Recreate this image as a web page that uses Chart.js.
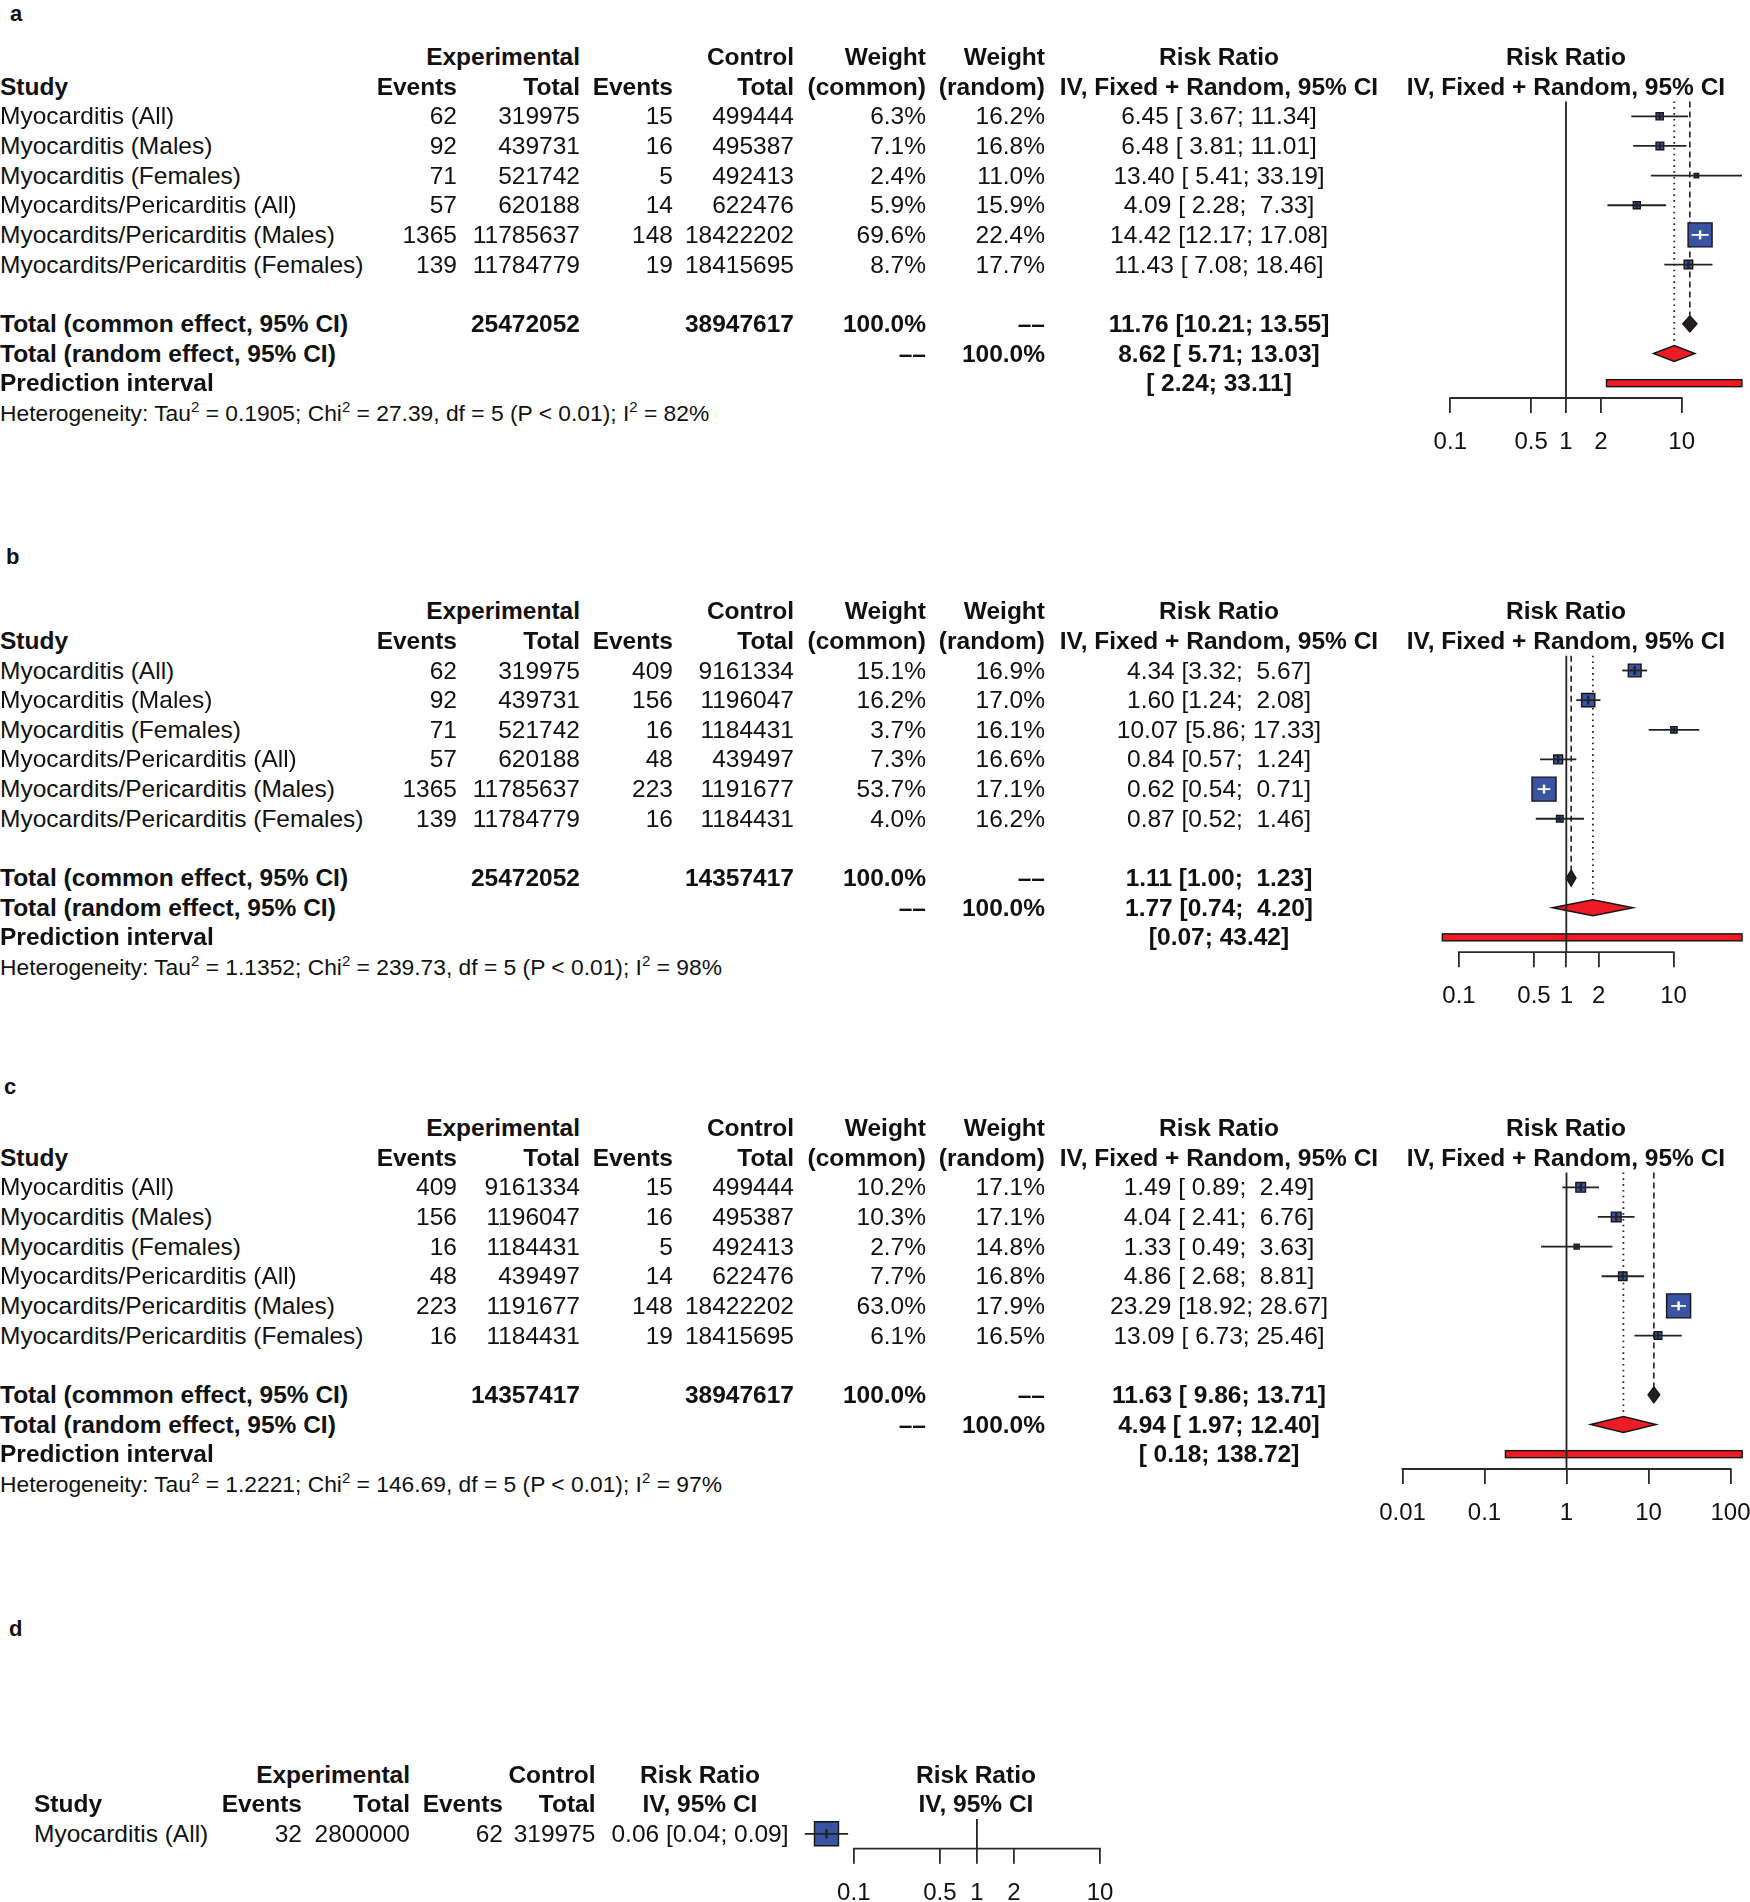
<!DOCTYPE html>
<html><head><meta charset="utf-8"><title>Forest plots</title>
<script src="https://cdn.jsdelivr.net/npm/chart.js@4.4.1/dist/chart.umd.min.js"></script>
<style>
html,body{margin:0;padding:0;background:#fff;overflow:hidden;}
#page{position:relative;width:1750px;height:1902px;overflow:hidden;background:#fff;font-family:"Liberation Sans",Arial,Helvetica,sans-serif;color:#111;}
.t{position:absolute;white-space:pre;font-size:24.5px;line-height:30px;height:30px;z-index:2;}
.b{font-weight:bold;}
.het{font-size:22.8px;}
.sup{font-size:15px;position:relative;top:-9px;}
.lab{font-size:22px;font-weight:bold;line-height:26px;height:26px;}
canvas{position:absolute;z-index:1;}
</style></head>
<body><div id="page"></div>
<script>
// ---------------- DATA ----------------
const studyLabels = ["Myocarditis (All)", "Myocarditis (Males)", "Myocarditis (Females)",
  "Myocardits/Pericarditis (All)", "Myocardits/Pericarditis (Males)", "Myocardits/Pericarditis (Females)"];
const axisTicksStd = [0.1, 0.5, 1, 2, 10];
const axisTickLabelsStd = ["0.1", "0.5", "1", "2", "10"];
const axisTicksWide = [0.01, 0.1, 1, 10, 100];
const axisTickLabelsWide = ["0.01", "0.1", "1", "10", "100"];

// panel a
const aExpEvents = [62, 92, 71, 57, 1365, 139];
const aExpTotal = [319975, 439731, 521742, 620188, 11785637, 11784779];
const aCtrlEvents = [15, 16, 5, 14, 148, 19];
const aCtrlTotal = [499444, 495387, 492413, 622476, 18422202, 18415695];
const aWeightCommon = [6.3, 7.1, 2.4, 5.9, 69.6, 8.7];
const aWeightRandom = [16.2, 16.8, 11.0, 15.9, 22.4, 17.7];
const aRR = [6.45, 6.48, 13.40, 4.09, 14.42, 11.43];
const aLower = [3.67, 3.81, 5.41, 2.28, 12.17, 7.08];
const aUpper = [11.34, 11.01, 33.19, 7.33, 17.08, 18.46];
const aTotals = [25472052, 38947617];
const aCommon = [11.76, 10.21, 13.55];
const aRandom = [8.62, 5.71, 13.03];
const aPrediction = [2.24, 33.11];
const aHet = ["0.1905", "27.39", "5", "0.01", "82%"];

// panel b
const bExpEvents = [62, 92, 71, 57, 1365, 139];
const bExpTotal = [319975, 439731, 521742, 620188, 11785637, 11784779];
const bCtrlEvents = [409, 156, 16, 48, 223, 16];
const bCtrlTotal = [9161334, 1196047, 1184431, 439497, 1191677, 1184431];
const bWeightCommon = [15.1, 16.2, 3.7, 7.3, 53.7, 4.0];
const bWeightRandom = [16.9, 17.0, 16.1, 16.6, 17.1, 16.2];
const bRR = [4.34, 1.60, 10.07, 0.84, 0.62, 0.87];
const bLower = [3.32, 1.24, 5.86, 0.57, 0.54, 0.52];
const bUpper = [5.67, 2.08, 17.33, 1.24, 0.71, 1.46];
const bTotals = [25472052, 14357417];
const bCommon = [1.11, 1.00, 1.23];
const bRandom = [1.77, 0.74, 4.20];
const bPrediction = [0.07, 43.42];
const bHet = ["1.1352", "239.73", "5", "0.01", "98%"];

// panel c
const cExpEvents = [409, 156, 16, 48, 223, 16];
const cExpTotal = [9161334, 1196047, 1184431, 439497, 1191677, 1184431];
const cCtrlEvents = [15, 16, 5, 14, 148, 19];
const cCtrlTotal = [499444, 495387, 492413, 622476, 18422202, 18415695];
const cWeightCommon = [10.2, 10.3, 2.7, 7.7, 63.0, 6.1];
const cWeightRandom = [17.1, 17.1, 14.8, 16.8, 17.9, 16.5];
const cRR = [1.49, 4.04, 1.33, 4.86, 23.29, 13.09];
const cLower = [0.89, 2.41, 0.49, 2.68, 18.92, 6.73];
const cUpper = [2.49, 6.76, 3.63, 8.81, 28.67, 25.46];
const cTotals = [14357417, 38947617];
const cCommon = [11.63, 9.86, 13.71];
const cRandom = [4.94, 1.97, 12.40];
const cPrediction = [0.18, 138.72];
const cHet = ["1.2221", "146.69", "5", "0.01", "97%"];

// panel d
const dStudy = ["Myocarditis (All)"];
const dExpEvents = [32];
const dExpTotal = [2800000];
const dCtrlEvents = [62];
const dCtrlTotal = [319975];
const dWeight = [100];
const dRR = [0.06];
const dLower = [0.04];
const dUpper = [0.09];

// ---------------- LAYOUT ----------------
const STEP = 29.65;
const FONT = '"Liberation Sans", Arial, Helvetica, sans-serif';
const TICK_LEN = 15, TICK_PAD = 15, TICK_FONT = 24;
const page = document.getElementById('page');

function addText(html, x, y, align, cls) {
  const d = document.createElement('div');
  d.className = 't ' + (cls || '');
  d.innerHTML = html;
  if (align === 'left') d.style.left = x + 'px';
  else if (align === 'right') { d.style.left = (x - 700) + 'px'; d.style.width = '700px'; d.style.textAlign = 'right'; }
  else { d.style.left = (x - 400) + 'px'; d.style.width = '800px'; d.style.textAlign = 'center'; }
  const half = (cls === 'lab') ? 13 : 15;
  d.style.top = (y - half) + 'px';
  page.appendChild(d);
}
function fmtCI(lo, hi, wLo, wHi) {
  return '[' + lo.toFixed(2).padStart(wLo) + '; ' + hi.toFixed(2).padStart(wHi) + ']';
}

function drawStdTable(P) {
  const Y = k => P.y0 + k * STEP;
  const C = {e1: 457, t1: 580, e2: 673, t2: 794, wc: 926, wr: 1045, rr: 1219, fp: 1566};
  addText(P.letter, P.letterX, P.letterY, 'left', 'lab');
  addText('Experimental', C.t1, Y(0), 'right', 'b');
  addText('Control', C.t2, Y(0), 'right', 'b');
  addText('Weight', C.wc, Y(0), 'right', 'b');
  addText('Weight', C.wr, Y(0), 'right', 'b');
  addText('Risk Ratio', C.rr, Y(0), 'center', 'b');
  addText('Risk Ratio', C.fp, Y(0), 'center', 'b');
  addText('Study', 0, Y(1), 'left', 'b');
  addText('Events', C.e1, Y(1), 'right', 'b');
  addText('Total', C.t1, Y(1), 'right', 'b');
  addText('Events', C.e2, Y(1), 'right', 'b');
  addText('Total', C.t2, Y(1), 'right', 'b');
  addText('(common)', C.wc, Y(1), 'right', 'b');
  addText('(random)', C.wr, Y(1), 'right', 'b');
  addText('IV, Fixed + Random, 95% CI', C.rr, Y(1), 'center', 'b');
  addText('IV, Fixed + Random, 95% CI', C.fp, Y(1), 'center', 'b');
  const los = P.lo.concat([P.common[1], P.random[1]]).map(v => v.toFixed(2));
  const his = P.hi.concat([P.common[2], P.random[2]]).map(v => v.toFixed(2));
  const wLo = Math.max(...los.map(s => s.length)), wHi = Math.max(...his.map(s => s.length));
  studyLabels.forEach((s, i) => {
    const y = Y(2 + i);
    addText(s, 0, y, 'left');
    addText(String(P.expEvents[i]), C.e1, y, 'right');
    addText(String(P.expTotal[i]), C.t1, y, 'right');
    addText(String(P.ctrlEvents[i]), C.e2, y, 'right');
    addText(String(P.ctrlTotal[i]), C.t2, y, 'right');
    addText(P.wc[i].toFixed(1) + '%', C.wc, y, 'right');
    addText(P.wr[i].toFixed(1) + '%', C.wr, y, 'right');
    addText(P.rr[i].toFixed(2) + ' ' + fmtCI(P.lo[i], P.hi[i], wLo, wHi), C.rr, y, 'center');
  });
  addText('Total (common effect, 95% CI)', 0, Y(9), 'left', 'b');
  addText(String(P.totals[0]), C.t1, Y(9), 'right', 'b');
  addText(String(P.totals[1]), C.t2, Y(9), 'right', 'b');
  addText('100.0%', C.wc, Y(9), 'right', 'b');
  addText('––', C.wr, Y(9), 'right', 'b');
  addText(P.common[0].toFixed(2) + ' ' + fmtCI(P.common[1], P.common[2], wLo, wHi), C.rr, Y(9), 'center', 'b');
  addText('Total (random effect, 95% CI)', 0, Y(10), 'left', 'b');
  addText('––', C.wc, Y(10), 'right', 'b');
  addText('100.0%', C.wr, Y(10), 'right', 'b');
  addText(P.random[0].toFixed(2) + ' ' + fmtCI(P.random[1], P.random[2], wLo, wHi), C.rr, Y(10), 'center', 'b');
  addText('Prediction interval', 0, Y(11), 'left', 'b');
  addText(fmtCI(P.pred[0], P.pred[1], wLo, wHi), C.rr, Y(11), 'center', 'b');
  addText('Heterogeneity: Tau<span class="sup">2</span> = ' + P.het[0] + '; Chi<span class="sup">2</span> = ' + P.het[1] +
    ', df = ' + P.het[2] + ' (P &lt; ' + P.het[3] + '); I<span class="sup">2</span> = ' + P.het[4], 0, Y(12), 'left', 'het');
}

function forestChart(o) {
  // o.px: pixel positions of first and last tick; o.area: chart area left/right in page pixels
  const l0 = Math.log10(o.ticks[0]), l1 = Math.log10(o.ticks[o.ticks.length - 1]);
  const pxPerDec = (o.px[1] - o.px[0]) / (l1 - l0);
  const valAt = p => Math.pow(10, l0 + (p - o.px[0]) / pxPerDec);
  const xMin = valAt(o.area[0]), xMax = valAt(o.area[1]);

  const yTopPx = o.y0 + o.kTop * STEP, yBotPx = o.y0 + o.kBottom * STEP;
  const axisH = TICK_LEN + TICK_FONT * 1.2 + 2 * TICK_PAD;
  const padTop = 30;
  const cTop = Math.floor(yTopPx - padTop);
  const H = Math.ceil(yBotPx + axisH + 6 - cTop);
  const W = o.cx[1] - o.cx[0];
  const cv = document.createElement('canvas');
  cv.width = W; cv.height = H;
  cv.style.left = o.cx[0] + 'px'; cv.style.top = cTop + 'px';
  cv.style.width = W + 'px'; cv.style.height = H + 'px';
  page.appendChild(cv);
  const padding = {left: o.area[0] - o.cx[0], right: o.cx[1] - o.area[1], top: yTopPx - cTop, bottom: H - (yBotPx - cTop) - axisH};
  const wmax = Math.max(...o.weights);
  const sides = o.weights.map(w => 24 * Math.sqrt(w / wmax));
  const rows = o.rr.map((_, i) => 2 + i);
  const inside = (chart, i) => {
    const x = chart.scales.x;
    return Math.abs(x.getPixelForValue(o.hi[i]) - x.getPixelForValue(o.lo[i])) < sides[i] - 2;
  };
  const lineDs = (pts, extra) => Object.assign({type: 'scatter', data: pts, showLine: true, pointRadius: 0,
    borderColor: '#222', borderWidth: 1.8, clip: false, order: 10}, extra);
  const ds = [];
  const dh = 8 / STEP;
  ds.push(lineDs([{x: 1, y: 1.5}, {x: 1, y: o.kBottom}], {order: 20}));
  if (o.common) ds.push(lineDs([{x: o.common[0], y: 1.5}, {x: o.common[0], y: 9 - dh}], {borderDash: [6, 4], borderWidth: 1.6, order: 20}));
  if (o.random) ds.push(lineDs([{x: o.random[0], y: 1.5}, {x: o.random[0], y: 10 - dh}], {borderDash: [1.6, 4.2], borderWidth: 1.8, order: 20}));
  ds.push({type: 'scatter', data: o.rr.map((v, i) => ({x: v, y: rows[i]})), pointStyle: 'rect',
    pointRadius: sides.map(s => s / Math.SQRT2), pointBackgroundColor: '#3a53a3', pointBorderColor: '#151515',
    pointBorderWidth: 1.4, clip: false, order: 8});
  o.rr.forEach((v, i) => ds.push(lineDs([{x: o.lo[i], y: rows[i]}, {x: o.hi[i], y: rows[i]}],
    {borderColor: c => inside(c.chart, i) ? '#ffffff' : '#222', order: 4})));
  ds.push({type: 'scatter', data: o.rr.map((v, i) => ({x: v, y: rows[i]})), pointStyle: 'line', pointRotation: 90,
    pointRadius: sides.map(s => Math.max(1.5, Math.min(4.5, s / 2 - 1))),
    pointBorderColor: c => inside(c.chart, c.dataIndex) ? '#ffffff' : '#222',
    pointBorderWidth: 2.4, clip: false, order: 2});

  const shapes = {
    id: 'forestShapes',
    beforeDatasetsDraw(chart) {
      const ctx = chart.ctx, x = chart.scales.x, y = chart.scales.y;
      ctx.save();
      ctx.lineWidth = 1.4; ctx.strokeStyle = '#151515'; ctx.lineJoin = 'miter';
      const diamond = (v, row, fill) => {
        const yc = y.getPixelForValue(row);
        ctx.beginPath();
        ctx.moveTo(x.getPixelForValue(v[1]), yc);
        ctx.lineTo(x.getPixelForValue(v[0]), yc - 8);
        ctx.lineTo(x.getPixelForValue(v[2]), yc);
        ctx.lineTo(x.getPixelForValue(v[0]), yc + 8);
        ctx.closePath();
        ctx.fillStyle = fill; ctx.fill(); ctx.stroke();
      };
      if (o.common) diamond(o.common, 9, '#231f20');
      if (o.random) diamond(o.random, 10, '#ed1c24');
      if (o.pred) {
        const yc = y.getPixelForValue(11);
        const x1 = x.getPixelForValue(o.pred[0]), x2 = x.getPixelForValue(o.pred[1]);
        ctx.fillStyle = '#ed1c24';
        ctx.fillRect(x1, yc - 3.5, x2 - x1, 7);
        ctx.strokeRect(x1, yc - 3.5, x2 - x1, 7);
      }
      ctx.restore();
    },
    afterDraw(chart) {
      // axis line spanning only from first to last tick (R style)
      const ctx = chart.ctx, x = chart.scales.x;
      const yb = chart.chartArea.bottom;
      ctx.save();
      ctx.strokeStyle = '#2a2a2a'; ctx.lineWidth = 1.8;
      ctx.beginPath();
      ctx.moveTo(x.getPixelForValue(o.ticks[0]) - 0.9, yb);
      ctx.lineTo(x.getPixelForValue(o.ticks[o.ticks.length - 1]) + 0.9, yb);
      ctx.stroke();
      ctx.restore();
    }
  };

  new Chart(cv, {
    type: 'scatter',
    data: {datasets: ds},
    options: {
      responsive: false, animation: false, events: [],
      layout: {padding},
      plugins: {legend: {display: false}, tooltip: {enabled: false}},
      scales: {
        x: {type: 'logarithmic', position: 'bottom', min: xMin, max: xMax, bounds: 'data',
          afterBuildTicks: s => { s.ticks = o.ticks.map(v => ({value: v})); },
          ticks: {autoSkip: false, maxRotation: 0, minRotation: 0, padding: TICK_PAD, color: '#111',
            font: {family: FONT, size: TICK_FONT}, callback: (v, i) => o.tickLabels[i]},
          grid: {display: true, drawOnChartArea: false, drawTicks: true, tickLength: TICK_LEN, color: '#2a2a2a', lineWidth: 1.8},
          border: {display: false}},
        y: {type: 'linear', display: false, min: o.kTop, max: o.kBottom, reverse: true, bounds: 'data'}
      }
    },
    plugins: [shapes]
  });
}

const stdPanels = [
  {letter: 'a', letterX: 10, letterY: 14, y0: 57, expEvents: aExpEvents, expTotal: aExpTotal, ctrlEvents: aCtrlEvents, ctrlTotal: aCtrlTotal,
   wc: aWeightCommon, wr: aWeightRandom, rr: aRR, lo: aLower, hi: aUpper, totals: aTotals, common: aCommon, random: aRandom, pred: aPrediction, het: aHet,
   px: [1450.3, 1681.7], ticks: axisTicksStd, tickLabels: axisTickLabelsStd},
  {letter: 'b', letterX: 6, letterY: 557, y0: 611.2, expEvents: bExpEvents, expTotal: bExpTotal, ctrlEvents: bCtrlEvents, ctrlTotal: bCtrlTotal,
   wc: bWeightCommon, wr: bWeightRandom, rr: bRR, lo: bLower, hi: bUpper, totals: bTotals, common: bCommon, random: bRandom, pred: bPrediction, het: bHet,
   px: [1459.0, 1673.6], ticks: axisTicksStd, tickLabels: axisTickLabelsStd},
  {letter: 'c', letterX: 4, letterY: 1087, y0: 1128, expEvents: cExpEvents, expTotal: cExpTotal, ctrlEvents: cCtrlEvents, ctrlTotal: cCtrlTotal,
   wc: cWeightCommon, wr: cWeightRandom, rr: cRR, lo: cLower, hi: cUpper, totals: cTotals, common: cCommon, random: cRandom, pred: cPrediction, het: cHet,
   px: [1402.5, 1730.5], ticks: axisTicksWide, tickLabels: axisTickLabelsWide}
];

stdPanels.forEach(P => {
  drawStdTable(P);
  forestChart({y0: P.y0, kTop: 0, kBottom: 11.5, px: P.px, area: [1390, 1752], cx: [1360, 1782], ticks: P.ticks, tickLabels: P.tickLabels,
    rr: P.rr, lo: P.lo, hi: P.hi, weights: P.wc, common: P.common, random: P.random, pred: P.pred});
});

// panel d
(function () {
  const y0 = 1774.5;
  const Y = k => y0 + k * STEP;
  const C = {s: 34, e1: 302, t1: 410, e2: 503, t2: 595.5, rr: 700, fp: 976};
  addText('d', 9, 1629, 'left', 'lab');
  addText('Experimental', C.t1, Y(0), 'right', 'b');
  addText('Control', C.t2, Y(0), 'right', 'b');
  addText('Risk Ratio', C.rr, Y(0), 'center', 'b');
  addText('Risk Ratio', C.fp, Y(0), 'center', 'b');
  addText('Study', C.s, Y(1), 'left', 'b');
  addText('Events', C.e1, Y(1), 'right', 'b');
  addText('Total', C.t1, Y(1), 'right', 'b');
  addText('Events', C.e2, Y(1), 'right', 'b');
  addText('Total', C.t2, Y(1), 'right', 'b');
  addText('IV, 95% CI', C.rr, Y(1), 'center', 'b');
  addText('IV, 95% CI', C.fp, Y(1), 'center', 'b');
  dStudy.forEach((s, i) => {
    const y = Y(2 + i);
    addText(s, C.s, y, 'left');
    addText(String(dExpEvents[i]), C.e1, y, 'right');
    addText(String(dExpTotal[i]), C.t1, y, 'right');
    addText(String(dCtrlEvents[i]), C.e2, y, 'right');
    addText(String(dCtrlTotal[i]), C.t2, y, 'right');
    addText(dRR[i].toFixed(2) + ' ' + fmtCI(dLower[i], dUpper[i], 4, 4), C.rr, y, 'center');
  });
  forestChart({y0: y0, kTop: -2, kBottom: 2.5, px: [853.8, 1100], area: [792, 1125], cx: [760, 1156],
    ticks: axisTicksStd, tickLabels: axisTickLabelsStd, rr: dRR, lo: dLower, hi: dUpper, weights: dWeight,
    common: null, random: null, pred: null});
})();
</script></body></html>
